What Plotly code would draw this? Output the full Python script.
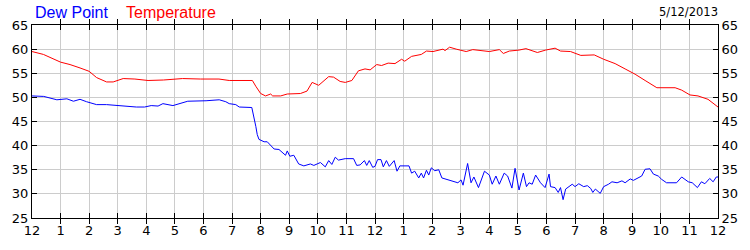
import plotly.graph_objects as go

temp_hours = [0, 0.4, 1.0, 1.33, 1.68, 2.0, 2.26, 2.61, 2.84, 3.19, 3.6, 4.06, 4.6, 5.27, 5.9, 6.54, 6.9, 7.3, 7.71,
              7.83, 8.0, 8.17, 8.35, 8.42, 8.7, 8.93, 9.39, 9.62, 9.8, 10.03, 10.38, 10.55, 10.78, 10.96, 11.19,
              11.42, 11.65, 11.83, 12.06, 12.23, 12.46, 12.7, 12.93, 13.04, 13.28, 13.62, 13.8, 14.03, 14.38,
              14.45, 14.61, 14.84, 15.19, 15.42, 15.65, 16.0, 16.35, 16.49, 16.7, 17.04, 17.28, 17.68, 17.97,
              18.3, 18.49, 18.84, 19.2, 19.67, 20.0, 20.4, 20.75, 21.1, 21.45, 21.86, 22.5, 22.73, 23.02, 23.3,
              23.65, 24.0]
temperature = [59.5, 58.9, 57.3, 56.8, 56.1, 55.4, 54.1, 53.2, 53.2, 53.9, 53.8, 53.5, 53.6, 53.9, 53.8, 53.8, 53.5,
               53.5, 53.5, 52.3, 50.8, 50.3, 50.7, 50.3, 50.3, 50.7, 50.8, 51.3, 53.1, 52.5, 54.3, 54.2, 53.3, 53.1,
               53.5, 55.5, 55.9, 55.7, 56.8, 56.6, 57.1, 57.0, 57.9, 57.5, 58.5, 58.9, 59.6, 59.5, 60.0, 59.7, 60.4,
               60.0, 59.5, 59.9, 59.7, 59.5, 59.9, 59.1, 59.6, 59.8, 60.1, 59.3, 59.8, 60.2, 59.6, 59.5, 58.7, 58.8,
               57.9, 57.0, 55.9, 54.8, 53.5, 52.0, 52.0, 51.5, 50.5, 50.3, 49.6, 48.0]

dew_hours = [0, 0.41, 0.87, 1.22, 1.45, 1.68, 1.91, 2.26, 2.61, 2.96, 3.3, 3.65, 3.94, 4.17, 4.41, 4.58, 4.93, 5.45,
             6.09, 6.55, 6.78, 6.9, 7.13, 7.25, 7.69, 7.77, 7.83, 7.88, 7.94, 8.12, 8.23, 8.47, 8.64, 8.87, 8.93,
             9.02, 9.16, 9.33, 9.51, 9.74, 9.86, 10.09, 10.26, 10.38, 10.49, 10.61, 10.72, 10.96, 11.25, 11.36,
             11.48, 11.63, 11.71, 11.8, 11.92, 12.0, 12.09, 12.21, 12.29, 12.4, 12.5, 12.67, 12.77, 12.87, 13.08,
             13.19, 13.28, 13.39, 13.53, 13.62, 13.7, 13.8, 13.88, 13.97, 14.09, 14.23, 14.34, 14.49, 14.67, 14.9,
             15.01, 15.08, 15.24, 15.36, 15.46, 15.62, 15.83, 16.0, 16.1, 16.23, 16.35, 16.52, 16.64, 16.79, 16.9,
             17.04, 17.19, 17.3, 17.39, 17.5, 17.62, 17.79, 17.95, 18.09, 18.14, 18.3, 18.41, 18.49, 18.58, 18.67,
             18.9, 19.0, 19.13, 19.3, 19.43, 19.55, 19.62, 19.71, 19.88, 20.0, 20.17, 20.29, 20.47, 20.64, 20.75,
             20.93, 21.04, 21.33, 21.45, 21.62, 21.74, 21.91, 22.03, 22.2, 22.55, 22.73, 22.96, 23.1, 23.28, 23.42,
             23.54, 23.71, 23.83, 23.94, 24.0]
dew_point = [50.3, 50.2, 49.5, 49.7, 49.2, 49.6, 49.1, 48.5, 48.5, 48.3, 48.2, 48.0, 48.0, 48.3, 48.2, 48.7, 48.3,
             49.2, 49.3, 49.5, 49.1, 48.7, 48.5, 48.0, 47.9, 46.0, 44.0, 42.3, 41.3, 40.8, 40.8, 39.3, 39.2, 38.0,
             38.9, 37.8, 38.0, 36.2, 35.8, 36.2, 35.9, 36.5, 35.6, 36.9, 36.1, 37.6, 37.0, 37.3, 37.3, 35.9, 36.0,
             36.9, 35.9, 36.9, 35.5, 35.7, 37.1, 37.1, 35.6, 36.9, 35.7, 36.9, 34.7, 35.8, 35.9, 35.8, 34.3, 34.7,
             33.3, 34.3, 33.3, 34.9, 33.9, 35.4, 34.8, 35.0, 33.3, 33.0, 32.7, 32.3, 32.9, 31.8, 36.3, 32.3, 33.5,
             31.3, 34.7, 33.9, 32.0, 33.7, 32.0, 34.3, 33.7, 31.2, 35.3, 30.8, 34.3, 31.5, 32.3, 32.0, 33.9, 32.3,
             31.3, 34.1, 31.5, 31.3, 30.3, 31.3, 28.8, 31.0, 32.0, 31.5, 32.1, 31.5, 31.7, 31.1, 30.3, 31.0, 30.1,
             31.5, 32.0, 32.5, 32.3, 32.7, 32.3, 33.1, 32.8, 33.7, 35.1, 35.2, 34.1, 33.7, 33.0, 32.3, 32.3, 33.5,
             32.5, 32.3, 31.3, 32.5, 32.1, 33.2, 32.5, 33.5, 33.5]

x_tick_vals = list(range(0, 25))
x_tick_text = ["12", "1", "2", "3", "4", "5", "6", "7", "8", "9", "10", "11",
               "12", "1", "2", "3", "4", "5", "6", "7", "8", "9", "10", "11", "12"]
y_tick_vals = [25, 30, 35, 40, 45, 50, 55, 60, 65]
date_label = "5/12/2013"

FONT = "DejaVu Sans"
TITLE_FONT = "Liberation Sans"

fig = go.Figure()
fig.add_trace(go.Scatter(x=temp_hours, y=temperature, mode="lines",
                         line=dict(color="#ff0000", width=1), name="Temperature"))
fig.add_trace(go.Scatter(x=dew_hours, y=dew_point, mode="lines",
                         line=dict(color="#0000ff", width=1), name="Dew Point"))
# invisible trace to activate the right axis
fig.add_trace(go.Scatter(x=[0], y=[25], yaxis="y2", mode="markers",
                         marker=dict(opacity=0), showlegend=False, hoverinfo="skip"))

axis_common = dict(showline=True, linecolor="#000000", linewidth=1, ticks="inside", ticklen=5,
                   tickcolor="#000000", tickfont=dict(family=FONT, size=13, color="#000000"),
                   showgrid=True, gridcolor="#cccccc", gridwidth=1, zeroline=False)

fig.update_layout(
    width=750, height=250,
    margin=dict(l=30, r=30, t=25, b=25),
    paper_bgcolor="white", plot_bgcolor="white",
    showlegend=False,
    xaxis=dict(range=[0, 24], tickvals=x_tick_vals, ticktext=x_tick_text, mirror="allticks", **axis_common),
    yaxis=dict(range=[25, 65], tickvals=y_tick_vals, mirror="allticks", **axis_common),
    yaxis2=dict(range=[25, 65], tickvals=y_tick_vals, overlaying="y", side="right",
                showline=True, linecolor="#000000", ticks="inside", ticklen=5, tickcolor="#000000",
                tickfont=dict(family=FONT, size=13, color="#000000"), showgrid=False, zeroline=False),
    annotations=[
        dict(text="Dew Point", xref="paper", yref="paper", x=0, y=1, xanchor="left", yanchor="middle",
             xshift=1, yshift=13, showarrow=False, font=dict(family=TITLE_FONT, size=16, color="#0000ff")),
        dict(text="Temperature", xref="paper", yref="paper", x=0, y=1, xanchor="left", yanchor="middle",
             xshift=92, yshift=13, showarrow=False, font=dict(family=TITLE_FONT, size=16, color="#ff0000")),
        dict(text=date_label, xref="paper", yref="paper", x=1, y=1, xanchor="right", yanchor="middle",
             xshift=2, yshift=13, showarrow=False, font=dict(family=FONT, size=11.5, color="#000000")),
    ],
)

fig.write_html("out.html")
